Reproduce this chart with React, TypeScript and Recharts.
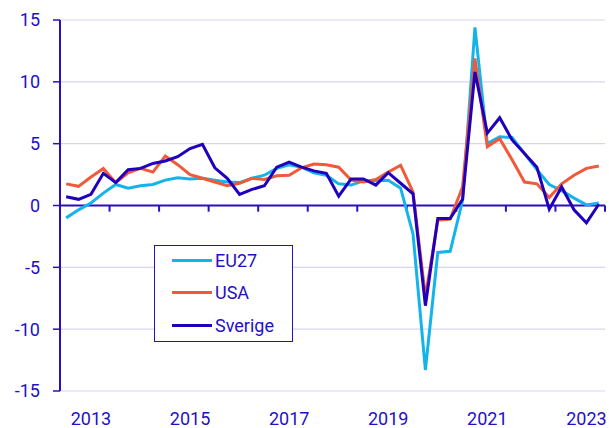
import { LineChart, Line, XAxis, YAxis, CartesianGrid, ReferenceLine } from 'recharts';

const quarters = [
  '2012K3', '2012K4',
  '2013K1', '2013K2', '2013K3', '2013K4',
  '2014K1', '2014K2', '2014K3', '2014K4',
  '2015K1', '2015K2', '2015K3', '2015K4',
  '2016K1', '2016K2', '2016K3', '2016K4',
  '2017K1', '2017K2', '2017K3', '2017K4',
  '2018K1', '2018K2', '2018K3', '2018K4',
  '2019K1', '2019K2', '2019K3', '2019K4',
  '2020K1', '2020K2', '2020K3', '2020K4',
  '2021K1', '2021K2', '2021K3', '2021K4',
  '2022K1', '2022K2', '2022K3', '2022K4',
  '2023K1', '2023K2',
];

const eu27 = [
  -1.0, -0.35, 0.2, 1.0, 1.7, 1.4, 1.6, 1.7, 2.05, 2.25, 2.15, 2.2,
  2.05, 1.9, 1.85, 2.2, 2.45, 3.0, 3.3, 3.1, 2.65, 2.45, 1.75, 1.65,
  2.0, 2.0, 2.05, 1.4, -2.3, -13.3, -3.8, -3.7, 0.4, 14.4, 5.0, 5.55,
  5.5, 4.2, 2.9, 1.7, 1.2, 0.6, 0.05, 0.2,
];

const usa = [
  1.75, 1.55, 2.3, 3.0, 1.85, 2.65, 3.0, 2.7, 4.0, 3.3, 2.5, 2.2,
  1.9, 1.6, 1.8, 2.2, 2.1, 2.4, 2.45, 3.05, 3.35, 3.3, 3.1, 2.05,
  1.9, 2.1, 2.7, 3.25, 1.1, -7.4, -1.2, -1.1, 1.5, 11.9, 4.75, 5.4,
  3.7, 1.9, 1.75, 0.65, 1.75, 2.45, 3.0, 3.2,
];

const sverige = [
  0.7, 0.5, 0.9, 2.6, 1.85, 2.9, 3.0, 3.4, 3.6, 3.95, 4.6, 4.95,
  3.05, 2.2, 0.9, 1.3, 1.6, 3.1, 3.5, 3.1, 2.8, 2.6, 0.75, 2.15,
  2.15, 1.65, 2.65, 1.8, 0.95, -8.1, -1.05, -1.05, 0.5, 10.8, 5.85, 7.1,
  5.3, 4.2, 3.1, -0.3, 1.5, -0.35, -1.4, 0.1,
];

const yTicks = [-15, -10, -5, 0, 5, 10, 15];

const TEXT = '#2410C4';
const AXIS = '#2A0FC0';
const GRID = '#D9D5F1';

const series = [
  { key: 'eu27', name: 'EU27', color: '#14B4EA' },
  { key: 'usa', name: 'USA', color: '#F05A3A' },
  { key: 'sverige', name: 'Sverige', color: '#2100BB' },
];

const data = quarters.map((q, i) => ({
  i,
  q,
  eu27: eu27[i],
  usa: usa[i],
  sverige: sverige[i],
}));

// year labels sit on the first quarter of every other year
const labelTicks = data.filter(d => d.q.endsWith('K1') && Number(d.q.slice(0, 4)) % 2 === 1).map(d => d.i);
// small tick marks on the zero line after every second quarter of the year
const yearMarks = data.filter(d => d.q.endsWith('K2')).map(d => d.i + 0.5);

function LegendBox() {
  return (
    <div
      style={{
        position: 'absolute',
        left: 154,
        top: 245,
        width: 139,
        height: 97,
        boxSizing: 'border-box',
        border: `1px solid ${AXIS}`,
        background: '#fff',
        fontFamily: 'Roboto',
      }}
    >
      {series.map((s, k) => (
        <div
          key={s.key}
          style={{
            position: 'absolute',
            left: 17,
            top: 14 + k * 32.5 - 16,
            height: 32,
            display: 'flex',
            alignItems: 'center',
          }}
        >
          <span style={{ display: 'inline-block', width: 40, height: 3, background: s.color, marginRight: 3 }} />
          <span style={{ fontSize: 18, color: TEXT }}>{s.name}</span>
        </div>
      ))}
    </div>
  );
}

export default function App() {
  return (
    <div style={{ position: 'absolute', left: 0, top: 0, width: 609, height: 428, background: '#fff' }}>
      <LineChart
        width={609}
        height={428}
        data={data}
        margin={{ top: 20, right: 4, bottom: 0, left: 0 }}
        style={{ fontFamily: 'Roboto' }}
      >
        <CartesianGrid vertical={false} stroke={GRID} strokeWidth={1.2} />
        <XAxis
          dataKey="i"
          type="number"
          domain={[-0.5, 43.5]}
          ticks={labelTicks}
          tickFormatter={(v: number) => quarters[v].slice(0, 4)}
          axisLine={false}
          tickLine={false}
          tickSize={0}
          tickMargin={21}
          height={37}
          tick={{ fill: TEXT, fontSize: 18 }}
          interval={0}
        />
        <YAxis
          domain={[-15, 15]}
          ticks={yTicks}
          width={60}
          axisLine={{ stroke: AXIS, strokeWidth: 2 }}
          tickLine={{ stroke: AXIS, strokeWidth: 1.5 }}
          tickSize={7}
          tickMargin={13}
          tick={{ fill: TEXT, fontSize: 18 }}
          interval={0}
        />
        <ReferenceLine y={0} stroke={AXIS} strokeWidth={2} />
        {yearMarks.map(x => (
          <ReferenceLine
            key={x}
            segment={[{ x, y: 0 }, { x, y: -0.5 }]}
            stroke={AXIS}
            strokeWidth={2}
          />
        ))}
        {series.map(s => (
          <Line
            key={s.key}
            name={s.name}
            type="linear"
            dataKey={s.key}
            stroke={s.color}
            strokeWidth={3}
            dot={false}
            isAnimationActive={false}
          />
        ))}
      </LineChart>
      <LegendBox />
    </div>
  );
}
